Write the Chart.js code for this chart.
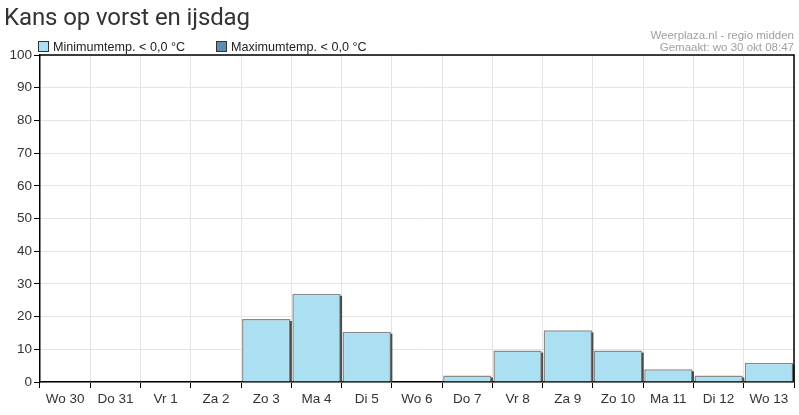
<!DOCTYPE html>
<html><head><meta charset="utf-8">
<script src="https://cdn.jsdelivr.net/npm/chart.js@4/dist/chart.umd.min.js"></script>
<style>
html,body{margin:0;padding:0;background:#fff;}
#wrap{position:relative;width:799px;height:415px;overflow:hidden;}
#title{position:absolute;left:4px;top:0px;font-family:Roboto,sans-serif;font-size:24px;color:#333;line-height:34px;white-space:nowrap;letter-spacing:-0.1px;}
.leg{position:absolute;top:40px;font-family:"Liberation Sans",Arial,sans-serif;font-size:12.6px;color:#222;line-height:14px;white-space:nowrap;}
.leg span{display:inline-block;width:9px;height:9px;border:1px solid #333;margin-right:4px;vertical-align:-1px;}
.cred{position:absolute;right:5px;font-family:"Liberation Sans",Arial,sans-serif;font-size:11.5px;color:#a0a0a0;line-height:12px;white-space:nowrap;text-align:right;}
canvas{position:absolute;left:0;top:0;}
</style></head>
<body><div id="wrap">
<canvas id="c" width="799" height="415"></canvas>
<div id="title"></div>
<div id="leg1" class="leg" style="left:38px"></div>
<div id="leg2" class="leg" style="left:216px"></div>
<div class="cred" id="cred1" style="top:29px"></div>
<div class="cred" id="cred2" style="top:41px"></div>
</div>
<script>
const titleText = "Kans op vorst en ijsdag";
const credits = ["Weerplaza.nl - regio midden", "Gemaakt: wo 30 okt 08:47"];
const categories = ["Wo 30","Do 31","Vr 1","Za 2","Zo 3","Ma 4","Di 5","Wo 6","Do 7","Vr 8","Za 9","Zo 10","Ma 11","Di 12","Wo 13"];
const minTempValues = [0,0,0,0,19.3,27,15.4,0,2,9.6,15.8,9.6,3.9,2,5.9];
const maxTempValues = [0,0,0,0,0,0,0,0,0,0,0,0,0,0,0];
const seriesLabels = ["Minimumtemp. < 0,0 °C","Maximumtemp. < 0,0 °C"];
const seriesColors = ["#aae0f1","#5b8fad"];
const yTicks = [0,10,20,30,40,50,60,70,80,90,100];

document.getElementById('title').textContent = titleText;
document.getElementById('cred1').textContent = credits[0];
document.getElementById('cred2').textContent = credits[1];
['leg1','leg2'].forEach((id,i)=>{
  const el=document.getElementById(id);
  const sw=document.createElement('span'); sw.style.background=seriesColors[i];
  el.appendChild(sw); el.appendChild(document.createTextNode(seriesLabels[i]));
});

const shadowPlugin = {
  id:'shadow',
  afterDatasetsDraw(chart){
    const ctx=chart.ctx;
    chart.data.datasets.forEach((ds,di)=>{
      const meta=chart.getDatasetMeta(di);
      meta.data.forEach((el,i)=>{
        if(!ds.data[i]) return;
        const p=el.getProps(['x','y','base','width'],true);
        const r=p.x+p.width/2;
        ctx.save();
        ctx.strokeStyle='#4a4a4a';
        ctx.lineWidth=2;
        ctx.beginPath();
        ctx.moveTo(r+0.5,p.y+2);
        ctx.lineTo(r+0.5,p.base);
        ctx.stroke();
        ctx.restore();
      });
    });
  },
  afterDraw(chart){
    const a=chart.chartArea, ctx=chart.ctx;
    ctx.save();
    ctx.strokeStyle='#000';
    ctx.lineWidth=1.5;
    ctx.beginPath();
    ctx.moveTo(a.left,a.top);ctx.lineTo(a.right,a.top);ctx.lineTo(a.right,a.bottom);
    ctx.stroke();
    ctx.restore();
  }
};

new Chart(document.getElementById('c'),{
  type:'bar',
  data:{labels:categories,datasets:[
    {label:seriesLabels[0],data:minTempValues,backgroundColor:seriesColors[0],borderColor:'#8a8a8a',borderWidth:1.5,barPercentage:1,categoryPercentage:0.96,grouped:false},
    {label:seriesLabels[1],data:maxTempValues,backgroundColor:seriesColors[1],borderColor:'#555',borderWidth:0,barPercentage:1,categoryPercentage:0.96,grouped:false}
  ]},
  options:{
    responsive:false,animation:false,
    layout:{padding:{top:55,right:5,left:0,bottom:0}},
    plugins:{legend:{display:false},title:{display:false},tooltip:{enabled:false}},
    scales:{
      x:{
        offset:true,
        grid:{offset:true,color:'#e4e4e4',tickColor:'#000',tickLength:6,lineWidth:1},
        border:{color:'#000',width:1.5},
        ticks:{color:'#333',font:{family:'"Liberation Sans", Arial, sans-serif',size:13.5},padding:3,maxRotation:0,autoSkip:false},
        afterFit(s){s.height=33;}
      },
      y:{
        min:0,max:100,
        afterBuildTicks(s){s.ticks=yTicks.map(v=>({value:v}));},
        grid:{color:'#e4e4e4',tickColor:'#000',tickLength:6,lineWidth:1},
        border:{color:'#000',width:1.5},
        ticks:{color:'#333',font:{family:'"Liberation Sans", Arial, sans-serif',size:13.5},padding:2},
        afterFit(s){s.width=40;}
      }
    }
  },
  plugins:[shadowPlugin]
});
</script>
</body></html>
